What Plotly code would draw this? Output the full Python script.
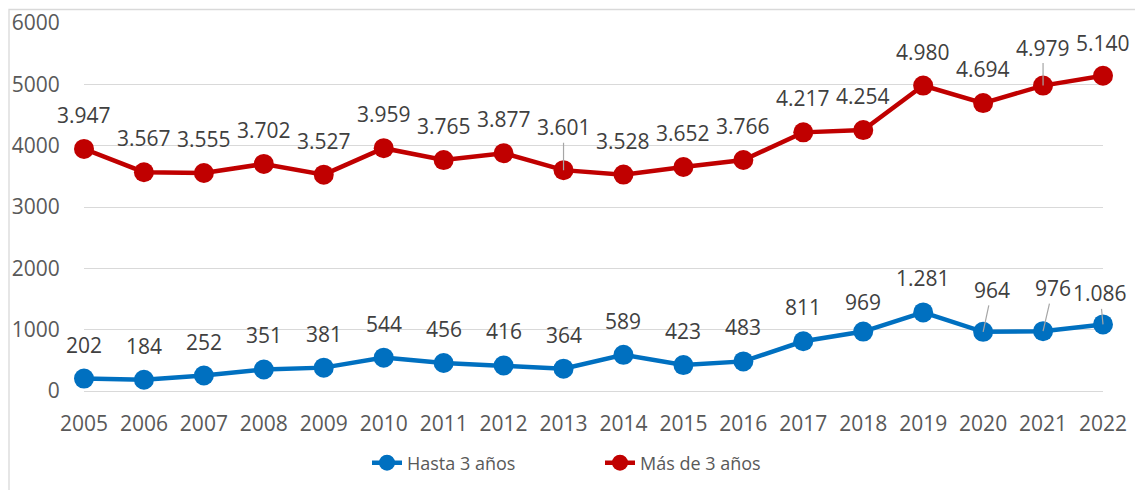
import plotly.graph_objects as go

years = list(range(2005, 2023))
hasta_3 = [202, 184, 252, 351, 381, 544, 456, 416, 364, 589, 423, 483, 811, 969, 1281, 964, 976, 1086]
mas_3 = [3947, 3567, 3555, 3702, 3527, 3959, 3765, 3877, 3601, 3528, 3652, 3766, 4217, 4254, 4980, 4694, 4979, 5140]
y_ticks = [0, 1000, 2000, 3000, 4000, 5000, 6000]

BLUE = "#0070C0"
RED = "#C00000"
FONT = "Open Sans"
TXT = "#404040"
AX_TXT = "#595959"
GRID = "#D9D9D9"

# label style: (ax, ay, leader) pixel offsets of the label centre from its point
blue_style = {2018: (0, -30, False), 2020: (9, -42, True), 2021: (10, -43, True), 2022: (-3, -31, True)}
red_style = {2013: (0, -43, True), 2021: (0, -38, True), 2022: (0, -33, False)}


def fmt(v):
    return f"{v:,}".replace(",", ".")


fig = go.Figure()
fig.add_trace(go.Scatter(x=years, y=hasta_3, name="Hasta 3 años", mode="lines+markers",
                         line=dict(color=BLUE, width=4.5), marker=dict(color=BLUE, size=20),
                         cliponaxis=False))
fig.add_trace(go.Scatter(x=years, y=mas_3, name="Más de 3 años", mode="lines+markers",
                         line=dict(color=RED, width=4.5), marker=dict(color=RED, size=20),
                         cliponaxis=False))

annotations = []
for vals, style in ((hasta_3, blue_style), (mas_3, red_style)):
    for yr, v in zip(years, vals):
        ax, ay, leader = style.get(yr, (0, -34, False))
        if leader:
            annotations.append(dict(x=yr, y=v, text=fmt(v), showarrow=True, ax=ax, ay=ay,
                                    arrowhead=0, arrowwidth=1.2, arrowcolor="#A6A6A6", standoff=0,
                                    font=dict(family=FONT, size=21, color=TXT)))
        else:
            annotations.append(dict(x=yr, y=v, text=fmt(v), showarrow=False, xshift=ax, yshift=-ay,
                                    font=dict(family=FONT, size=21, color=TXT)))

L, R, T, B = 84, 1103, 23, 391
W, H = 1135, 490
pw, ph = R - L, B - T

fig.add_shape(type="rect", xref="paper", yref="paper",
              x0=(9 - L) / pw, x1=(1145 - L) / pw, y0=(B - 500) / ph, y1=(B - 9.5) / ph,
              line=dict(color=GRID, width=1.3), fillcolor="rgba(0,0,0,0)", layer="below")

fig.update_layout(
    width=W, height=H,
    margin=dict(l=L, r=W - R, t=T, b=H - B, pad=0, autoexpand=False),
    paper_bgcolor="white", plot_bgcolor="white",
    font=dict(family=FONT, size=21, color=AX_TXT),
    showlegend=True,
    legend=dict(orientation="h", x=(372 - 5 - L) / pw, xanchor="left",
                y=(B - 463) / ph, yanchor="middle",
                font=dict(family=FONT, size=18, color=AX_TXT), itemwidth=30,
                entrywidth=188, entrywidthmode="pixels", bgcolor="rgba(0,0,0,0)"),
    annotations=annotations,
    xaxis=dict(range=[2005, 2022], tickmode="array", tickvals=years, ticktext=[str(y) for y in years],
               showgrid=False, zeroline=False, showline=False, automargin=False,
               ticks="outside", ticklen=14, tickcolor="rgba(0,0,0,0)",
               tickfont=dict(family=FONT, size=21, color=AX_TXT)),
    yaxis=dict(range=[0, 6000], tickmode="array", tickvals=y_ticks, ticktext=[str(t) for t in y_ticks],
               showgrid=True, gridcolor=GRID, gridwidth=1.3, automargin=False,
               zeroline=True, zerolinecolor=GRID, zerolinewidth=1.3, showline=False,
               ticks="outside", ticklen=19, tickcolor="rgba(0,0,0,0)",
               tickfont=dict(family=FONT, size=21, color=AX_TXT)),
)

fig.write_html("out.html", config={"displayModeBar": False},
               post_script="document.body.style.margin='0';document.body.style.overflow='hidden';")
